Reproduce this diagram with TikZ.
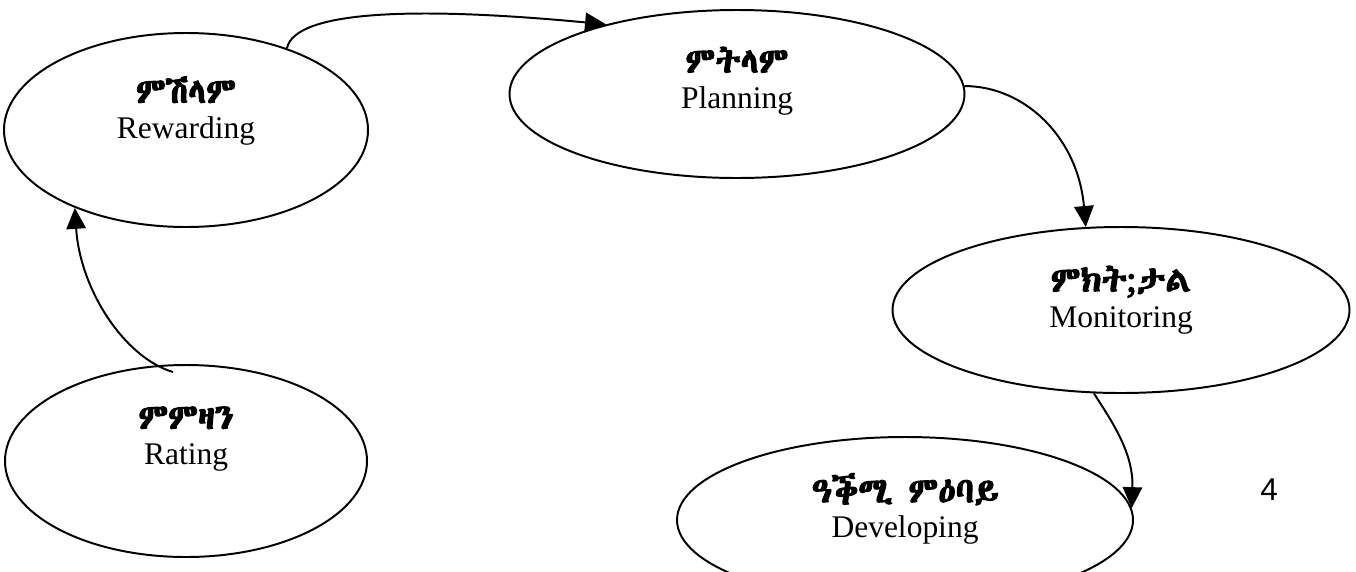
\documentclass[tikz,border=0pt]{standalone}
\usepackage{fontspec}
\usetikzlibrary{shapes.geometric,arrows.meta}
\setmainfont{Liberation Serif}
\newfontfamily\pagefont{Liberation Sans}
\IfFontExistsTF{Abyssinica SIL}
  {\newfontfamily\geez[Script=Ethiopic,AutoFakeBold=3]{Abyssinica SIL}}
  {\IfFontExistsTF{FreeSerif}
    {\newfontfamily\geez[AutoFakeBold=3]{FreeSerif}}
    {\newfontfamily\geez{DejaVu Sans}}}
\newcommand\gz[1]{{\geez\bfseries\fontsize{13.3}{13.6}\selectfont #1}}

\begin{document}
\begin{tikzpicture}[x=0.381pt, y=0.381pt]
    \tikzset{bubble/.style 2 args={ellipse, draw, line width=0.75pt, minimum width=#1*0.381pt, minimum height=#2*0.381pt, inner sep=0pt},
        caption/.style={align=center, inner sep=0pt, font=\fontsize{12}{13.6}\selectfont},
        link/.style={-{Triangle[length=8pt,width=7.4pt]}, line width=0.75pt}};
    \useasboundingbox (0,0) rectangle (1356,571);
    \clip (0,0) rectangle (1356,571);
    % the five stages
    \node[bubble={364}{194}] (rewarding) at (186,441) {};
    \node[bubble={455}{168}] (planning) at (737,477) {};
    \node[bubble={457}{166}] (monitoring) at (1121,261) {};
    \node[bubble={456}{166}] (developing) at (905,51) {};
    \node[bubble={362}{192}] (rating) at (186,110) {};
    \node[caption] (rewardingtxt) at (186,460) {\gz{ምሽላም}\\Rewarding};
    \node[caption] (planningtxt) at (737,490) {\gz{ምትላም}\\Planning};
    \node[caption] (monitoringtxt) at (1121,271) {\gz{ምክት;ታል}\\Monitoring};
    \node[caption] (developingtxt) at (905,62) {\gz{ዓቕሚ ምዕባይ}\\Developing};
    \node[caption] (ratingtxt) at (186,132) {\gz{ምምዛን}\\Rating};
    \node[font=\pagefont\fontsize{12}{14}\selectfont] (pagenum) at (1269,81) {4};
    % the cycle
    \draw[link] (rewarding.39) .. controls +(8,38) and +(-190,18) .. (planning.152);
    \draw[link] (planning.2) .. controls +(60,0) and +(-8,90) .. (monitoring.113);
    \draw[link] (monitoring.252) .. controls +(18,-28) and +(2,55) .. (developing.3);
    \draw[link] ([shift={(-13,-8)}]rating.north) .. controls +(-50,15) and +(5,-80) .. (rewarding.215);
\end{tikzpicture}
\end{document}
